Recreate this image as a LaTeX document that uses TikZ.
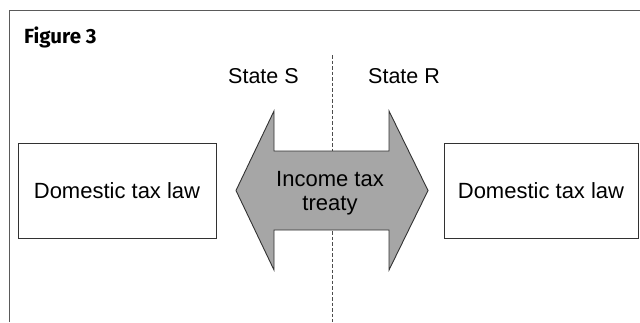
\documentclass[tikz,border=0pt]{standalone}
\usepackage{fontspec}
\setmainfont{Liberation Sans}
\newfontfamily\titlefont{Fira Sans}
\definecolor{framegray}{RGB}{90,90,90}
\definecolor{linegray}{RGB}{50,50,50}
\definecolor{treatyfill}{RGB}{166,166,166}
\begin{document}
\begin{tikzpicture}[x=1pt,y=-1pt,
  frameline/.style={draw=framegray, line width=1pt},
  lawbox/.style={draw=linegray, line width=1pt, fill=white,
    minimum height=95pt, inner sep=0pt, font=\fontsize{22}{24}\selectfont},
  statelabel/.style={anchor=base west, inner sep=0pt, font=\fontsize{21.5}{23}\selectfont},
  divider/.style={draw=black!70, line width=0.8pt, dash pattern=on 3.5pt off 2pt},
  treaty/.style={draw=linegray, line width=0.9pt, fill=treatyfill, line join=miter}]
\useasboundingbox (0,0) rectangle (640,322);

% open frame: left and top rules
\coordinate (fbl) at (9,322);
\coordinate (ftl) at (9,10.5);
\coordinate (ftr) at (640,10.5);
\draw[frameline] (fbl) -- (ftl) -- (ftr);

\node[anchor=base west, inner sep=0pt, font=\titlefont\bfseries\fontsize{20.5}{23}\selectfont]
  (title) at (24,43) {Figure 3};

% border between the two states
\coordinate (divtop) at (332,55);
\coordinate (divbot) at (332,322);
\draw[divider] (divtop) -- (divbot);

\node[statelabel] (stateS) at (228,83) {State S};
\node[statelabel] (stateR) at (368,83) {State R};

% domestic law of each state
\node[lawbox, minimum width=198pt] (lawS) at (117,190.5) {Domestic tax law};
\node[lawbox, minimum width=194pt] (lawR) at (541,190.5) {Domestic tax law};

% the treaty as a double-headed arrow
\draw[treaty] (236,190.5) -- (274,111) -- (274,151) -- (389,151) -- (389,111)
  -- (428,190.5) -- (389,270) -- (389,230) -- (274,230) -- (274,270) -- cycle;
\node[align=center, inner sep=0pt, font=\fontsize{22}{24}\selectfont]
  (treatytext) at (330,193) {Income tax\\treaty};
\end{tikzpicture}
\end{document}
